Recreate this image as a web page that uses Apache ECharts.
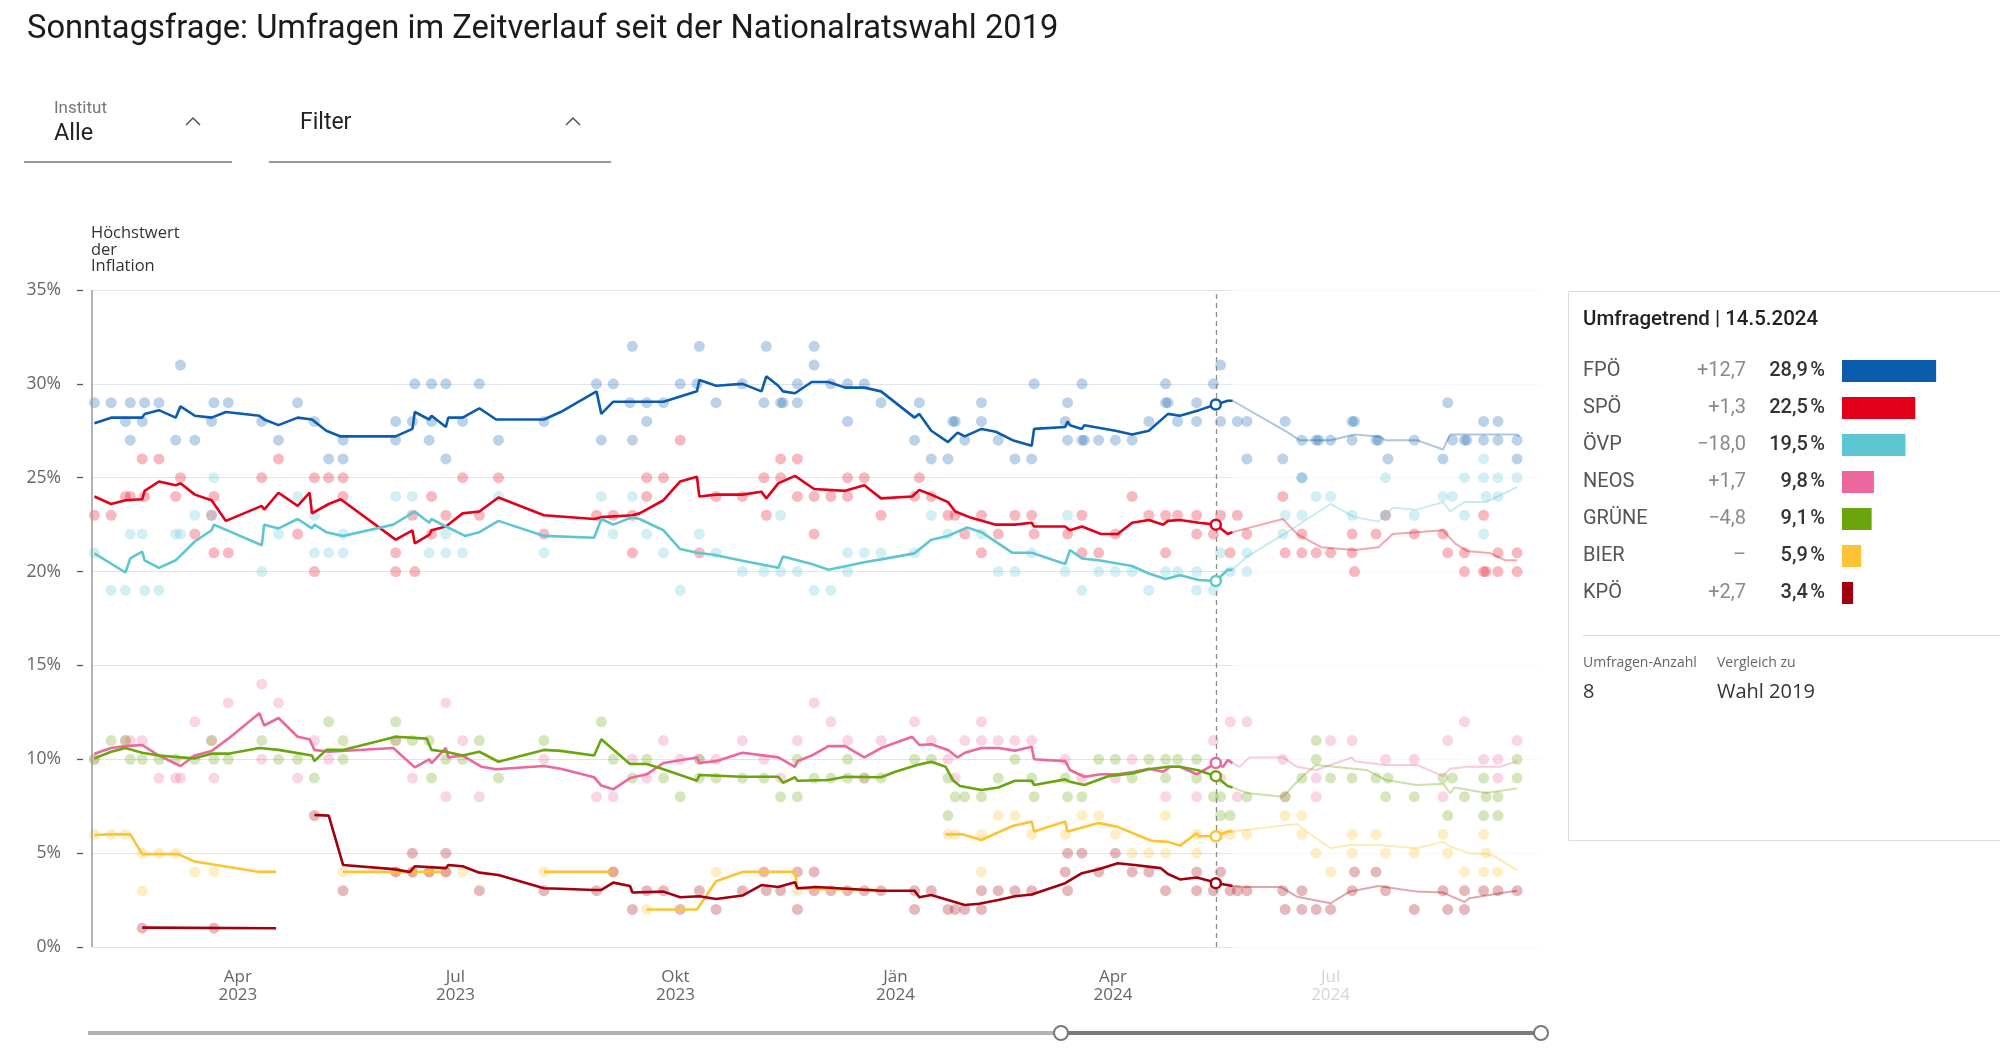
<!DOCTYPE html>
<html><head><meta charset="utf-8">
<script src="https://cdn.jsdelivr.net/npm/echarts@6/dist/echarts.min.js"></script>
<style>html,body{margin:0;padding:0;background:#fff}#c{width:2000px;height:1049px}</style>
</head><body><div id="c"></div>
<script>
const parties = ['FPÖ','SPÖ','ÖVP','NEOS','GRÜNE','BIER','KPÖ'];
const partyColors = ['#0b5cad','#e2001a','#5ec6d3','#ec679f','#6aa50d','#fdc332','#a3000f'];
const changeLabels = ['+12,7','+1,3','\u221218,0','+1,7','\u22124,8','\u2013','+2,7'];
const pollCount = '8';
const compareTo = 'Wahl 2019';
const trendDate = '2024-05-14';
const fadeFrom = '2024-05-21';
const inflationPeakDate = '2023-01-30';
const xMin = '2023-01-30', xMax = '2024-09-27';
const xTickDates = ['2023-04-01','2023-07-01','2023-10-01','2024-01-01','2024-04-01','2024-07-01'];
const xTickLabels = ['Apr\n2023','Jul\n2023','Okt\n2023','Jän\n2024','Apr\n2024','Jul\n2024'];

const fpoTrend = [['2023-01-31',27.9],['2023-02-07',28.2],['2023-02-14',28.2],['2023-02-20',28.2],['2023-02-21',28.4],['2023-02-27',28.6],['2023-03-06',28.2],['2023-03-08',28.8],['2023-03-14',28.3],['2023-03-21',28.2],['2023-03-27',28.5],['2023-04-10',28.3],['2023-04-12',28.1],['2023-04-18',27.8],['2023-04-26',28.2],['2023-05-02',28.1],['2023-05-08',27.5],['2023-05-14',27.2],['2023-06-06',27.2],['2023-06-13',27.6],['2023-06-14',28.5],['2023-06-20',28.1],['2023-06-21',28.3],['2023-06-27',27.7],['2023-06-28',28.2],['2023-07-04',28.2],['2023-07-11',28.7],['2023-07-18',28.1],['2023-08-07',28.1],['2023-08-14',28.5],['2023-08-29',29.6],['2023-08-31',28.4],['2023-09-05',29.05],['2023-09-26',29.05],['2023-10-10',29.6],['2023-10-11',30.2],['2023-10-18',29.9],['2023-10-29',30.0],['2023-11-06',29.6],['2023-11-08',30.4],['2023-11-13',29.9],['2023-11-15',29.6],['2023-11-20',29.5],['2023-11-27',30.1],['2023-12-04',30.1],['2023-12-11',29.8],['2023-12-19',29.8],['2023-12-26',29.6],['2024-01-09',28.2],['2024-01-11',28.4],['2024-01-16',27.5],['2024-01-23',26.9],['2024-01-27',27.4],['2024-01-30',27.2],['2024-02-06',27.6],['2024-02-12',27.45],['2024-02-19',27.0],['2024-02-27',26.7],['2024-02-28',27.6],['2024-03-12',27.7],['2024-03-13',28.0],['2024-03-14',27.8],['2024-03-19',27.6],['2024-03-20',27.8],['2024-04-02',27.5],['2024-04-09',27.3],['2024-04-16',27.5],['2024-04-24',28.4],['2024-04-29',28.3],['2024-05-07',28.6],['2024-05-14',28.9],['2024-05-19',29.1],['2024-05-21',29.1],['2024-06-12',27.5],['2024-06-18',27.0],['2024-07-01',27.0],['2024-07-11',27.3],['2024-07-21',27.2],['2024-07-24',27.0],['2024-08-06',27.0],['2024-08-17',26.5],['2024-08-20',27.3],['2024-09-17',27.3],['2024-09-18',27.2]];
const spoTrend = [['2023-01-31',24.0],['2023-02-07',23.6],['2023-02-13',23.8],['2023-02-20',23.85],['2023-02-21',24.3],['2023-02-27',24.8],['2023-03-06',24.6],['2023-03-08',24.7],['2023-03-14',24.1],['2023-03-21',23.8],['2023-03-27',22.7],['2023-04-11',23.5],['2023-04-12',23.3],['2023-04-18',24.2],['2023-04-26',23.5],['2023-05-01',24.2],['2023-05-02',23.1],['2023-05-09',23.6],['2023-05-14',23.85],['2023-06-06',21.7],['2023-06-13',22.2],['2023-06-14',21.5],['2023-06-20',21.95],['2023-06-21',22.2],['2023-06-27',22.4],['2023-07-04',23.1],['2023-07-11',23.2],['2023-07-19',23.95],['2023-08-07',23.0],['2023-08-28',22.8],['2023-08-31',22.9],['2023-09-13',23.0],['2023-09-16',23.1],['2023-09-26',23.8],['2023-10-03',24.8],['2023-10-10',25.05],['2023-10-11',24.0],['2023-10-18',24.1],['2023-10-29',24.1],['2023-11-06',24.25],['2023-11-08',23.9],['2023-11-13',24.7],['2023-11-20',25.1],['2023-11-28',24.4],['2023-12-11',24.3],['2023-12-19',24.6],['2023-12-26',23.9],['2024-01-08',24.0],['2024-01-11',24.35],['2024-01-16',24.1],['2024-01-23',23.7],['2024-01-26',23.2],['2024-02-01',22.9],['2024-02-12',22.5],['2024-02-20',22.5],['2024-02-27',22.6],['2024-02-28',22.4],['2024-03-12',22.4],['2024-03-14',22.2],['2024-03-19',22.4],['2024-03-27',22.0],['2024-04-03',22.0],['2024-04-09',22.6],['2024-04-16',22.75],['2024-04-22',22.5],['2024-04-24',22.7],['2024-04-29',22.75],['2024-05-07',22.6],['2024-05-14',22.5],['2024-05-19',22.0],['2024-05-21',22.1],['2024-06-11',22.8],['2024-06-17',22.0],['2024-06-27',21.3],['2024-07-11',21.15],['2024-07-21',21.3],['2024-07-27',22.0],['2024-08-17',22.2],['2024-08-22',21.5],['2024-08-27',21.1],['2024-09-06',20.97],['2024-09-12',20.6],['2024-09-17',20.6]];
const ovpTrend = [['2023-01-31',20.97],['2023-02-13',19.95],['2023-02-15',20.7],['2023-02-20',21.06],['2023-02-21',20.6],['2023-02-27',20.2],['2023-03-06',20.6],['2023-03-14',21.6],['2023-03-21',22.2],['2023-03-22',22.5],['2023-04-11',21.4],['2023-04-12',22.5],['2023-04-18',22.3],['2023-04-26',22.8],['2023-05-02',22.3],['2023-05-03',22.5],['2023-05-08',22.1],['2023-05-15',21.9],['2023-06-05',22.5],['2023-06-14',23.2],['2023-06-20',22.6],['2023-06-21',22.8],['2023-06-27',22.4],['2023-07-05',21.9],['2023-07-11',22.1],['2023-07-19',22.7],['2023-08-07',21.9],['2023-08-28',21.8],['2023-08-31',22.8],['2023-09-05',22.5],['2023-09-13',22.9],['2023-09-16',22.8],['2023-09-26',22.2],['2023-10-03',21.2],['2023-10-10',21.0],['2023-10-17',20.9],['2023-10-28',20.6],['2023-11-13',20.2],['2023-11-15',20.8],['2023-11-27',20.4],['2023-12-04',20.1],['2023-12-19',20.5],['2023-12-26',20.65],['2024-01-09',20.97],['2024-01-16',21.7],['2024-01-23',21.9],['2024-01-31',22.35],['2024-02-06',22.1],['2024-02-13',21.5],['2024-02-19',21.0],['2024-02-27',21.0],['2024-03-12',20.4],['2024-03-14',21.15],['2024-03-19',20.7],['2024-03-26',20.6],['2024-04-09',20.3],['2024-04-16',19.9],['2024-04-23',19.6],['2024-04-29',19.8],['2024-05-07',19.55],['2024-05-14',19.5],['2024-05-19',20.1],['2024-05-21',20.1],['2024-05-27',20.8],['2024-06-11',21.95],['2024-07-01',23.6],['2024-07-11',22.9],['2024-07-21',22.66],['2024-07-27',23.4],['2024-08-06',23.3],['2024-08-17',23.7],['2024-08-20',23.2],['2024-08-26',23.7],['2024-09-04',23.7],['2024-09-17',24.5]];
const neosTrend = [['2023-01-31',10.3],['2023-02-07',10.6],['2023-02-13',10.7],['2023-02-20',10.76],['2023-02-27',10.2],['2023-03-08',9.64],['2023-03-14',10.2],['2023-03-21',10.44],['2023-03-28',11.1],['2023-04-10',12.45],['2023-04-12',11.8],['2023-04-18',12.2],['2023-04-26',11.2],['2023-05-01',11.07],['2023-05-03',10.5],['2023-05-09',10.4],['2023-06-05',10.6],['2023-06-14',9.57],['2023-06-20',10.0],['2023-06-21',9.8],['2023-06-27',10.6],['2023-06-28',10.1],['2023-07-04',10.2],['2023-07-12',9.6],['2023-07-18',9.47],['2023-08-07',9.64],['2023-08-14',9.5],['2023-08-28',9.04],['2023-08-31',8.6],['2023-09-05',8.4],['2023-09-12',9.0],['2023-09-19',9.2],['2023-09-26',9.8],['2023-10-10',10.1],['2023-10-11',9.8],['2023-10-18',9.9],['2023-10-29',10.35],['2023-11-13',10.1],['2023-11-20',9.6],['2023-11-21',9.9],['2023-11-27',10.2],['2023-12-04',10.7],['2023-12-11',10.7],['2023-12-19',10.1],['2023-12-26',10.6],['2024-01-08',11.2],['2024-01-11',10.76],['2024-01-16',10.8],['2024-01-23',10.5],['2024-01-27',10.1],['2024-01-30',10.35],['2024-02-06',10.6],['2024-02-13',10.6],['2024-02-20',10.46],['2024-02-27',10.67],['2024-02-28',10.0],['2024-03-12',9.9],['2024-03-14',9.43],['2024-03-20',9.07],['2024-03-27',9.2],['2024-04-03',9.2],['2024-04-10',9.34],['2024-04-16',9.5],['2024-04-22',9.34],['2024-04-25',9.6],['2024-04-29',9.6],['2024-05-06',9.2],['2024-05-14',9.8],['2024-05-17',9.6],['2024-05-19',9.96],['2024-05-21',9.8],['2024-05-24',9.6],['2024-05-28',10.1],['2024-06-11',10.1],['2024-06-17',9.6],['2024-06-25',9.43],['2024-07-10',10.1],['2024-07-11',9.9],['2024-07-24',9.7],['2024-08-06',9.7],['2024-08-17',9.1],['2024-08-20',9.5],['2024-08-27',9.6],['2024-09-10',9.6],['2024-09-17',9.9]];
const grueneTrend = [['2023-01-31',10.05],['2023-02-07',10.4],['2023-02-13',10.6],['2023-02-20',10.35],['2023-02-27',10.2],['2023-03-08',10.1],['2023-03-14',10.05],['2023-03-21',10.3],['2023-03-28',10.3],['2023-04-10',10.6],['2023-04-18',10.5],['2023-05-02',10.2],['2023-05-03',9.9],['2023-05-08',10.5],['2023-05-15',10.5],['2023-06-06',11.2],['2023-06-19',11.1],['2023-06-21',10.5],['2023-06-27',10.4],['2023-07-04',10.2],['2023-07-11',10.4],['2023-07-19',9.87],['2023-08-07',10.5],['2023-08-14',10.45],['2023-08-28',10.2],['2023-08-31',11.07],['2023-09-12',9.75],['2023-09-19',9.75],['2023-09-26',9.47],['2023-10-10',8.86],['2023-10-11',9.16],['2023-10-29',9.07],['2023-11-13',9.07],['2023-11-15',8.75],['2023-11-20',9.04],['2023-11-21',8.86],['2023-12-04',8.9],['2023-12-11',9.07],['2023-12-26',9.04],['2024-01-01',9.34],['2024-01-10',9.7],['2024-01-16',9.87],['2024-01-22',9.6],['2024-01-25',8.9],['2024-01-28',8.58],['2024-02-06',8.36],['2024-02-13',8.5],['2024-02-20',8.86],['2024-02-27',8.86],['2024-02-28',8.63],['2024-03-12',8.93],['2024-03-14',8.8],['2024-03-20',8.63],['2024-03-30',9.1],['2024-04-09',9.25],['2024-04-16',9.47],['2024-04-24',9.6],['2024-04-29',9.6],['2024-05-07',9.4],['2024-05-14',9.1],['2024-05-19',8.58],['2024-05-21',8.5],['2024-05-27',8.2],['2024-06-11',8.0],['2024-06-19',9.07],['2024-06-25',9.7],['2024-07-16',9.43],['2024-07-24',8.9],['2024-08-06',8.63],['2024-08-17',8.7],['2024-08-20',8.2],['2024-08-22',8.5],['2024-09-04',8.2],['2024-09-17',8.45]];
const bierTrend = [['2023-01-31',5.97],['2023-02-07',6.0],['2023-02-15',6.0],['2023-02-20',4.95],['2023-03-07',4.95],['2023-03-14',4.55],['2023-04-10',4.0],['2023-04-17',4.0],['2023-05-01',null],['2023-05-15',4.0],['2023-06-25',4.0],['2023-07-15',null],['2023-08-07',4.0],['2023-09-04',4.0],['2023-09-10',null],['2023-09-19',2.0],['2023-10-10',2.0],['2023-10-18',3.5],['2023-10-29',4.0],['2023-11-20',4.0],['2023-11-21',3.1],['2023-12-26',3.04],['2024-01-10',null],['2024-01-22',6.0],['2024-01-29',6.0],['2024-02-06',5.7],['2024-02-19',6.45],['2024-02-27',6.68],['2024-02-28',6.15],['2024-03-12',6.68],['2024-03-13',6.15],['2024-03-26',6.6],['2024-04-03',6.4],['2024-04-17',5.66],['2024-04-24',5.6],['2024-04-29',5.4],['2024-05-06',6.06],['2024-05-07',5.9],['2024-05-14',5.9],['2024-05-19',6.15],['2024-05-21',6.15],['2024-06-13',6.5],['2024-06-17',6.55],['2024-06-23',5.97],['2024-07-01',5.26],['2024-07-09',5.43],['2024-07-21',5.43],['2024-08-06',5.26],['2024-08-17',5.6],['2024-08-20',5.34],['2024-08-28',5.0],['2024-09-04',4.97],['2024-09-08',4.8],['2024-09-17',4.1]];
const kpoTrend = [['2023-02-20',1.03],['2023-04-17',1.0],['2023-04-25',null],['2023-05-03',7.03],['2023-05-09',7.0],['2023-05-15',4.37],['2023-06-05',4.15],['2023-06-12',4.0],['2023-06-14',4.3],['2023-06-27',4.2],['2023-06-28',4.37],['2023-07-04',4.3],['2023-07-11',3.96],['2023-07-19',3.84],['2023-08-07',3.13],['2023-08-14',3.1],['2023-08-28',3.04],['2023-08-31',3.04],['2023-09-05',3.43],['2023-09-12',3.25],['2023-09-13',2.9],['2023-09-26',2.95],['2023-10-03',2.65],['2023-10-11',2.7],['2023-10-18',2.56],['2023-10-29',2.74],['2023-11-06',3.3],['2023-11-13',3.2],['2023-11-20',3.45],['2023-11-21',3.13],['2023-11-29',3.2],['2023-12-26',3.0],['2024-01-09',3.0],['2024-01-11',2.65],['2024-01-16',2.77],['2024-01-23',2.5],['2024-01-30',2.24],['2024-02-05',2.3],['2024-02-13',2.5],['2024-02-20',2.7],['2024-02-27',2.8],['2024-03-12',3.4],['2024-03-19',3.93],['2024-03-26',4.14],['2024-04-03',4.46],['2024-04-10',4.37],['2024-04-21',4.2],['2024-04-24',3.89],['2024-04-29',3.6],['2024-05-06',3.7],['2024-05-12',3.5],['2024-05-14',3.4],['2024-05-19',3.3],['2024-05-21',3.25],['2024-05-26',3.2],['2024-06-10',3.2],['2024-06-17',2.68],['2024-07-01',2.33],['2024-07-09',2.95],['2024-07-21',3.25],['2024-08-06',2.95],['2024-08-17',2.9],['2024-08-26',2.4],['2024-08-28',2.6],['2024-09-12',2.9],['2024-09-17',3.0]];

const fpoPolls = [['2023-01-31',29],['2023-02-07',29],['2023-02-13',28],['2023-02-15',29],['2023-02-15',27],['2023-02-20',28],['2023-02-21',29],['2023-02-27',29],['2023-03-06',27],['2023-03-08',31],['2023-03-14',27],['2023-03-21',28],['2023-03-22',29],['2023-03-28',29],['2023-04-11',28],['2023-04-18',27],['2023-04-26',29],['2023-05-03',28],['2023-05-09',26],['2023-05-15',27],['2023-05-15',26],['2023-06-06',28],['2023-06-06',27],['2023-06-13',28],['2023-06-14',30],['2023-06-20',27],['2023-06-21',30],['2023-06-21',28],['2023-06-27',26],['2023-06-27',30],['2023-07-04',28],['2023-07-11',30],['2023-07-19',27],['2023-08-07',28],['2023-08-29',30],['2023-08-31',27],['2023-09-05',30],['2023-09-12',29],['2023-09-13',32],['2023-09-13',27],['2023-09-19',29],['2023-09-19',28],['2023-09-26',29],['2023-10-03',30],['2023-10-10',30],['2023-10-11',32],['2023-10-18',29],['2023-10-29',30],['2023-11-07',29],['2023-11-08',32],['2023-11-14',29],['2023-11-15',29],['2023-11-21',30],['2023-11-21',29],['2023-11-28',32],['2023-11-28',31],['2023-12-05',30],['2023-12-12',30],['2023-12-12',28],['2023-12-19',30],['2023-12-26',29],['2024-01-09',27],['2024-01-11',29],['2024-01-16',26],['2024-01-23',26],['2024-01-25',28],['2024-01-26',28],['2024-01-30',27],['2024-02-06',29],['2024-02-06',28],['2024-02-13',27],['2024-02-20',26],['2024-02-27',26],['2024-02-28',30],['2024-03-12',28],['2024-03-13',29],['2024-03-13',27],['2024-03-19',27],['2024-03-20',27],['2024-03-19',30],['2024-03-26',27],['2024-04-02',27],['2024-04-09',27],['2024-04-16',28],['2024-04-23',30],['2024-04-23',29],['2024-04-24',29],['2024-04-28',28],['2024-05-06',29],['2024-05-06',28],['2024-05-13',30],['2024-05-16',31],['2024-05-16',28],['2024-05-23',28],['2024-05-27',28],['2024-05-27',26],['2024-06-11',26],['2024-06-12',28],['2024-06-19',27],['2024-06-19',25],['2024-06-25',27],['2024-06-26',27],['2024-07-01',27],['2024-07-10',28],['2024-07-11',28],['2024-07-10',27],['2024-07-20',27],['2024-07-21',27],['2024-07-25',26],['2024-08-05',27],['2024-08-17',26],['2024-08-19',29],['2024-08-21',27],['2024-08-26',27],['2024-08-27',27],['2024-09-03',28],['2024-09-03',27],['2024-09-09',28],['2024-09-09',27],['2024-09-17',27],['2024-09-17',26]];
const spoPolls = [['2023-01-31',23],['2023-02-07',23],['2023-02-13',24],['2023-02-15',24],['2023-02-20',26],['2023-02-21',24],['2023-02-27',26],['2023-03-06',24],['2023-03-08',25],['2023-03-14',22],['2023-03-21',23],['2023-03-22',24],['2023-03-22',21],['2023-03-28',21],['2023-04-11',25],['2023-04-18',26],['2023-04-26',22],['2023-05-03',25],['2023-05-03',20],['2023-05-09',25],['2023-05-15',25],['2023-05-15',24],['2023-06-06',21],['2023-06-06',20],['2023-06-13',23],['2023-06-14',20],['2023-06-21',24],['2023-06-21',22],['2023-06-27',23],['2023-07-04',25],['2023-07-11',23],['2023-07-19',25],['2023-08-07',22],['2023-08-29',23],['2023-09-05',23],['2023-09-13',23],['2023-09-13',21],['2023-09-19',25],['2023-09-19',24],['2023-09-26',25],['2023-10-03',27],['2023-10-11',21],['2023-10-18',24],['2023-10-29',24],['2023-11-07',25],['2023-11-08',23],['2023-11-14',26],['2023-11-14',25],['2023-11-21',26],['2023-11-21',24],['2023-11-28',24],['2023-11-28',22],['2023-12-05',24],['2023-12-12',25],['2023-12-12',24],['2023-12-19',25],['2023-12-26',23],['2024-01-09',24],['2024-01-11',25],['2024-01-16',24],['2024-01-23',23],['2024-01-26',23],['2024-01-30',22],['2024-02-06',23],['2024-02-06',21],['2024-02-13',22],['2024-02-20',23],['2024-02-27',23],['2024-02-28',22],['2024-03-13',22],['2024-03-19',23],['2024-03-19',21],['2024-03-26',21],['2024-04-02',22],['2024-04-09',24],['2024-04-16',23],['2024-04-23',23],['2024-04-23',21],['2024-04-28',23],['2024-05-06',22],['2024-05-06',23],['2024-05-13',22],['2024-05-16',23],['2024-05-20',21],['2024-05-23',23],['2024-05-27',22],['2024-06-11',24],['2024-06-12',21],['2024-06-19',22],['2024-06-19',21],['2024-06-25',21],['2024-07-01',21],['2024-07-10',21],['2024-07-10',22],['2024-07-11',20],['2024-07-20',22],['2024-07-24',23],['2024-08-05',22],['2024-08-17',22],['2024-08-19',21],['2024-08-26',21],['2024-08-26',20],['2024-09-03',23],['2024-09-03',20],['2024-09-04',20],['2024-09-09',21],['2024-09-09',20],['2024-09-17',20],['2024-09-17',21]];
const ovpPolls = [['2023-01-31',21],['2023-02-07',19],['2023-02-13',19],['2023-02-15',22],['2023-02-20',22],['2023-02-21',19],['2023-02-27',19],['2023-03-06',22],['2023-03-08',22],['2023-03-14',23],['2023-03-21',23],['2023-03-22',25],['2023-04-11',20],['2023-04-18',22],['2023-04-26',24],['2023-05-03',21],['2023-05-03',23],['2023-05-09',21],['2023-05-15',22],['2023-05-15',21],['2023-06-06',24],['2023-06-13',24],['2023-06-20',21],['2023-06-27',22],['2023-06-27',21],['2023-07-04',21],['2023-07-19',24],['2023-08-07',21],['2023-08-31',24],['2023-09-05',22],['2023-09-13',24],['2023-09-19',22],['2023-09-26',21],['2023-10-03',19],['2023-10-11',22],['2023-10-18',21],['2023-10-29',20],['2023-11-07',20],['2023-11-14',23],['2023-11-14',20],['2023-11-21',20],['2023-11-28',19],['2023-12-05',19],['2023-12-12',21],['2023-12-12',20],['2023-12-19',21],['2023-12-26',21],['2024-01-09',21],['2024-01-16',23],['2024-01-23',22],['2024-02-06',22],['2024-02-13',20],['2024-02-20',20],['2024-02-27',21],['2024-03-12',20],['2024-03-13',23],['2024-03-19',19],['2024-03-26',20],['2024-04-02',20],['2024-04-09',20],['2024-04-16',19],['2024-04-23',20],['2024-04-28',20],['2024-05-06',19],['2024-05-06',20],['2024-05-13',19],['2024-05-16',21],['2024-05-20',20],['2024-05-27',21],['2024-05-27',20],['2024-06-11',22],['2024-06-12',23],['2024-06-19',25],['2024-06-19',23],['2024-06-25',24],['2024-07-01',24],['2024-07-10',23],['2024-07-24',25],['2024-07-24',23],['2024-08-05',23],['2024-08-17',24],['2024-08-21',24],['2024-08-26',25],['2024-08-26',23],['2024-09-03',26],['2024-09-03',25],['2024-09-04',24],['2024-09-03',22],['2024-09-09',25],['2024-09-09',24],['2024-09-17',25]];
const neosPolls = [['2023-01-31',10],['2023-02-13',11],['2023-02-15',11],['2023-02-20',11],['2023-02-27',9],['2023-03-06',9],['2023-03-08',9],['2023-03-14',12],['2023-03-21',11],['2023-03-22',9],['2023-03-28',13],['2023-04-11',14],['2023-04-11',10],['2023-04-18',13],['2023-04-26',9],['2023-05-03',11],['2023-05-09',10],['2023-06-06',11],['2023-06-13',9],['2023-06-27',13],['2023-06-27',8],['2023-07-04',11],['2023-07-11',8],['2023-08-07',10],['2023-08-29',8],['2023-09-05',8],['2023-09-13',10],['2023-09-19',9],['2023-09-26',11],['2023-10-03',10],['2023-10-11',10],['2023-10-18',10],['2023-10-29',11],['2023-11-07',10],['2023-11-14',9],['2023-11-21',11],['2023-11-28',13],['2023-12-05',12],['2023-12-12',11],['2023-12-19',9],['2023-12-26',11],['2024-01-09',12],['2024-01-16',11],['2024-01-23',10],['2024-01-26',9],['2024-01-30',11],['2024-02-06',12],['2024-02-06',11],['2024-02-13',11],['2024-02-20',11],['2024-02-27',11],['2024-03-12',10],['2024-03-19',9],['2024-04-02',9],['2024-04-09',10],['2024-04-23',8],['2024-05-06',8],['2024-05-13',11],['2024-05-16',9],['2024-05-20',12],['2024-05-23',8],['2024-05-27',12],['2024-06-11',10],['2024-06-12',8],['2024-06-25',9],['2024-06-25',8],['2024-07-01',11],['2024-07-10',11],['2024-07-24',10],['2024-08-05',10],['2024-08-17',8],['2024-08-19',11],['2024-08-26',12],['2024-09-03',10],['2024-09-09',10],['2024-09-09',9],['2024-09-17',11]];
const gruenePolls = [['2023-01-31',10],['2023-02-07',11],['2023-02-13',11],['2023-02-15',10],['2023-02-20',10],['2023-02-27',10],['2023-03-06',10],['2023-03-14',10],['2023-03-21',11],['2023-03-22',10],['2023-03-28',10],['2023-04-11',11],['2023-04-18',10],['2023-04-26',10],['2023-05-03',9],['2023-05-09',12],['2023-05-15',11],['2023-05-15',10],['2023-06-06',12],['2023-06-06',11],['2023-06-13',11],['2023-06-20',11],['2023-06-21',9],['2023-06-27',10],['2023-07-04',10],['2023-07-11',11],['2023-07-19',9],['2023-08-07',11],['2023-08-31',12],['2023-09-05',10],['2023-09-13',9],['2023-09-19',10],['2023-09-26',9],['2023-10-03',8],['2023-10-11',10],['2023-10-11',9],['2023-10-18',9],['2023-10-29',9],['2023-11-07',9],['2023-11-14',8],['2023-11-21',10],['2023-11-21',8],['2023-11-28',9],['2023-12-05',9],['2023-12-12',10],['2023-12-12',9],['2023-12-19',9],['2023-12-26',9],['2024-01-09',10],['2024-01-16',10],['2024-01-23',9],['2024-01-23',7],['2024-01-26',8],['2024-01-30',8],['2024-02-06',8],['2024-02-13',9],['2024-02-20',10],['2024-02-27',9],['2024-02-28',8],['2024-03-12',9],['2024-03-13',8],['2024-03-19',8],['2024-03-26',10],['2024-04-02',10],['2024-04-09',9],['2024-04-16',10],['2024-04-23',10],['2024-04-23',9],['2024-04-28',10],['2024-05-06',10],['2024-05-06',9],['2024-05-13',8],['2024-05-16',8],['2024-05-16',7],['2024-05-20',7],['2024-05-27',8],['2024-06-12',8],['2024-06-19',9],['2024-06-25',11],['2024-06-25',10],['2024-07-01',9],['2024-07-10',9],['2024-07-20',9],['2024-07-24',8],['2024-07-25',9],['2024-08-05',8],['2024-08-17',9],['2024-08-19',7],['2024-08-21',9],['2024-08-26',8],['2024-09-03',9],['2024-09-03',7],['2024-09-04',8],['2024-09-09',7],['2024-09-09',8],['2024-09-17',10],['2024-09-17',9]];
const bierPolls = [['2023-01-31',6],['2023-02-07',6],['2023-02-13',6],['2023-02-20',5],['2023-02-20',3],['2023-02-27',5],['2023-03-06',5],['2023-03-14',4],['2023-03-22',4],['2023-05-15',4],['2023-06-06',4],['2023-06-13',4],['2023-06-20',4],['2023-06-27',4],['2023-07-04',4],['2023-08-07',4],['2023-09-05',4],['2023-09-19',2],['2023-10-18',4],['2023-11-21',3],['2024-01-23',6],['2024-01-26',6],['2024-02-06',6],['2024-02-06',4],['2024-02-13',7],['2024-02-20',7],['2024-02-27',6],['2024-03-12',6],['2024-03-19',7],['2024-03-26',7],['2024-04-02',6],['2024-04-09',5],['2024-04-16',5],['2024-04-23',7],['2024-04-23',5],['2024-05-06',5],['2024-05-06',6],['2024-05-16',6],['2024-05-20',6],['2024-05-27',6],['2024-06-12',7],['2024-06-19',7],['2024-06-19',6],['2024-06-25',5],['2024-07-01',4],['2024-07-10',6],['2024-07-10',5],['2024-07-20',6],['2024-07-24',5],['2024-08-05',5],['2024-08-17',6],['2024-08-19',5],['2024-08-26',4],['2024-09-03',6],['2024-09-03',4],['2024-09-04',5],['2024-09-09',4]];
const kpoPolls = [['2023-02-20',1],['2023-03-22',1],['2023-05-03',7],['2023-05-15',3],['2023-06-06',4],['2023-06-13',5],['2023-06-13',4],['2023-06-20',4],['2023-06-27',5],['2023-06-27',4],['2023-07-11',3],['2023-08-07',3],['2023-08-29',3],['2023-09-05',4],['2023-09-13',2],['2023-09-19',3],['2023-09-26',3],['2023-10-03',2],['2023-10-11',3],['2023-10-18',2],['2023-10-29',3],['2023-11-07',4],['2023-11-08',3],['2023-11-14',3],['2023-11-21',4],['2023-11-21',2],['2023-11-28',4],['2023-11-28',3],['2023-12-05',3],['2023-12-12',3],['2023-12-19',3],['2023-12-26',3],['2024-01-09',3],['2024-01-09',2],['2024-01-16',3],['2024-01-23',2],['2024-01-26',2],['2024-01-30',2],['2024-02-06',3],['2024-02-06',2],['2024-02-13',3],['2024-02-20',3],['2024-02-27',3],['2024-03-12',4],['2024-03-13',5],['2024-03-13',3],['2024-03-19',5],['2024-03-26',4],['2024-04-02',5],['2024-04-09',4],['2024-04-16',4],['2024-04-23',3],['2024-05-06',4],['2024-05-06',3],['2024-05-13',3],['2024-05-16',4],['2024-05-20',3],['2024-05-23',3],['2024-05-27',3],['2024-06-11',3],['2024-06-12',2],['2024-06-19',3],['2024-06-19',2],['2024-06-25',2],['2024-07-01',2],['2024-07-10',3],['2024-07-11',4],['2024-07-20',4],['2024-07-24',3],['2024-08-05',2],['2024-08-17',3],['2024-08-19',2],['2024-08-26',2],['2024-08-26',3],['2024-09-03',3],['2024-09-09',3],['2024-09-17',3]];

const trends = [fpoTrend, spoTrend, ovpTrend, neosTrend, grueneTrend, bierTrend, kpoTrend];
const polls = [fpoPolls, spoPolls, ovpPolls, neosPolls, gruenePolls, bierPolls, kpoPolls];

function toTs(s){const p=s.split('-').map(Number);return new Date(p[0],p[1]-1,p[2]).getTime();}
function pts(arr){return arr.map(d=>[toTs(d[0]), d[1]]);}
const tickTs = xTickDates.map(toTs);
const trendValues = trends.map(t => t.find(d => d[0] === trendDate)[1]);

const series = [];
polls.forEach((p,i)=>{
  series.push({type:'scatter', data:pts(p), symbolSize:11, silent:true, z:2,
    itemStyle:{color:partyColors[i], opacity:0.28}});
});
trends.forEach((t,i)=>{
  series.push({type:'line', data:pts(t.filter(d=>d[0]>=fadeFrom)), showSymbol:false, silent:true, z:3,
    lineStyle:{color:partyColors[i], width:2, opacity:0.35}});
  series.push({type:'line', data:pts(t.filter(d=>d[0]<=fadeFrom)), showSymbol:false, silent:true, z:4,
    lineStyle:{color:partyColors[i], width:2.6}});
});
series[0].markLine = {silent:true, symbol:['none','none'], animation:false, label:{show:false},
  data:[
    {xAxis: toTs(inflationPeakDate), lineStyle:{color:'#9a9a9a', type:'solid', width:1.5}},
    {xAxis: toTs(trendDate), lineStyle:{color:'#8c8c8c', type:[5,4], width:1.3}}
  ]};
series.push({type:'scatter', z:6, silent:true, symbol:'circle', symbolSize:10,
  data: trendValues.map((v,i)=>({value:[toTs(trendDate), v], itemStyle:{color:'#fff', borderColor:partyColors[i], borderWidth:2.5, opacity:1}}))});
series.push({type:'bar', xAxisIndex:1, yAxisIndex:1, barWidth:22, silent:true, z:3,
  data: trendValues.map((v,i)=>({value:v, itemStyle:{color:partyColors[i]}}))});

const axisFont = '"Open Sans", "Noto Sans", sans-serif';
function labelFor(v){let best=-1,bd=Infinity;tickTs.forEach((t,i)=>{const d=Math.abs(t-v);if(d<bd){bd=d;best=i;}});return bd<3*86400000?xTickLabels[best]:'';}
const xLabelStyle = {margin:21, fontFamily:axisFont, fontSize:17, lineHeight:18, color:'#666'};
function buildOption(useCustom){
  return {
  animation:false,
  backgroundColor:'#fff',
  title:{text:'Sonntagsfrage: Umfragen im Zeitverlauf seit der Nationalratswahl 2019', left:22, top:8,
    textStyle:{fontFamily:'Roboto', fontSize:32.7, fontWeight:'normal', color:'#1b1b1b'}},
  grid:[{left:92, right:459, top:290, bottom:102},
        {left:1842, top:352.5, width:114, height:259}],
  xAxis:[{type:'value', gridIndex:0, min:toTs(xMin), max:toTs(xMax),
      axisLine:{show:true, lineStyle:{color:'#dfe4ee', width:1}},
      axisTick:{show:false}, splitLine:{show:false},
      axisLabel: useCustom ? Object.assign({customValues:tickTs, formatter:labelFor}, xLabelStyle) : {show:false}},
    {type:'value', gridIndex:1, min:0, max:35, show:false}],
  yAxis:[{type:'value', gridIndex:0, min:0, max:35, interval:5, offset:9,
      axisLine:{show:false}, axisTick:{show:true, length:6, lineStyle:{color:'#555', width:1.3}},
      splitLine:{show:true, lineStyle:{color:'#dfe4ee', width:1}},
      axisLabel:{margin:22, formatter:'{value}%', fontFamily:axisFont, fontSize:17.5, color:'#666'}},
    {type:'category', gridIndex:1, data:parties, inverse:true, show:false}],
  series: series
  };
}
let chart = echarts.init(document.getElementById('c'), null, {renderer:'canvas'});
let customOk = true;
try { chart.setOption(buildOption(true)); }
catch(e){ customOk = false; chart.dispose(); chart = echarts.init(document.getElementById('c')); chart.setOption(buildOption(false)); }

// ---- decorations (layout only) ----
const fx = chart.convertToPixel({xAxisIndex:0}, toTs(fadeFrom));
const g = [];
function txt(x,y,text,size,color,opt){opt=opt||{};return {type:'text', z:10, silent:true, x:x, y:y,
  style:{text:text, fontSize:size, fill:color, fontFamily:opt.family||'Roboto', fontWeight:opt.weight||'normal',
    align:opt.align||'left', textAlign:opt.align||'left', verticalAlign:'middle', textVerticalAlign:'middle'}};}
if(!customOk){
  tickTs.forEach((t,i)=>{const x=chart.convertToPixel({xAxisIndex:0}, t);
    g.push({type:'text', z:0, silent:true, x:x, y:968, style:{text:xTickLabels[i], fontSize:17, lineHeight:18, fill:'#666', fontFamily:axisFont, align:'center', textAlign:'center', verticalAlign:'top', textVerticalAlign:'top'}});});
}
g.push({type:'rect', z:1, silent:true, shape:{x:fx, y:282, width:1562-fx, height:732}, style:{fill:'rgba(255,255,255,0.72)'}});
// dropdowns
g.push(txt(54,109,'Institut',17,'#777'));
g.push(txt(54,134,'Alle',23.5,'#222'));
g.push(txt(300,123,'Filter',23,'#222'));
[[193,121],[573,121]].forEach(c=>g.push({type:'polyline', z:10, silent:true, shape:{points:[[c[0]-7,c[1]+4],[c[0],c[1]-3],[c[0]+7,c[1]+4]]}, style:{stroke:'#555', lineWidth:1.5, fill:null}}));
[[24,232],[269,611]].forEach(s=>g.push({type:'line', z:10, silent:true, shape:{x1:s[0],y1:162,x2:s[1],y2:162}, style:{stroke:'#9a9a9a', lineWidth:2}}));
// inflation note
g.push({type:'text', z:10, silent:true, x:91, y:225, style:{text:'Höchstwert\nder\nInflation', fontSize:16.5, lineHeight:16.6, fill:'#333', fontFamily:axisFont, align:'left', verticalAlign:'top', textAlign:'left', textVerticalAlign:'top'}});
// panel
g.push({type:'rect', z:0, silent:true, shape:{x:1568.5, y:291.5, width:480, height:549}, style:{fill:'#fff', stroke:'#dcdcdc', lineWidth:1}});
const dp = trendDate.split('-').map(Number);
g.push(txt(1583,320,'Umfragetrend | '+dp[2]+'.'+dp[1]+'.'+dp[0],20.5,'#222',{weight:500}));
parties.forEach((p,i)=>{
  const y = chart.convertToPixel({yAxisIndex:1}, p);
  g.push(txt(1583,y,p,20,'#555'));
  g.push(txt(1746,y,changeLabels[i],20,'#8a8a8a',{align:'right'}));
  g.push(txt(1825,y,trendValues[i].toFixed(1).replace('.',',')+'\u202f%',20,'#333',{align:'right', weight:500}));
});
g.push({type:'line', z:10, silent:true, shape:{x1:1583,y1:635.5,x2:2000,y2:635.5}, style:{stroke:'#dcdcdc', lineWidth:1}});
g.push(txt(1583,663,'Umfragen-Anzahl',14,'#666',{family:axisFont}));
g.push(txt(1717,663,'Vergleich zu',14,'#666',{family:axisFont}));
g.push(txt(1583,692,pollCount,20,'#333',{family:axisFont}));
g.push(txt(1717,692,compareTo,20,'#333',{family:axisFont}));
// range slider
g.push({type:'line', z:10, silent:true, shape:{x1:88,y1:1033,x2:1061,y2:1033}, style:{stroke:'#b3b3b3', lineWidth:4}});
g.push({type:'line', z:10, silent:true, shape:{x1:1061,y1:1033,x2:1541,y2:1033}, style:{stroke:'#7a7a7a', lineWidth:4}});
[1061,1541].forEach(x=>g.push({type:'circle', z:11, silent:true, shape:{cx:x, cy:1033, r:7}, style:{fill:'#fff', stroke:'#7a7a7a', lineWidth:2}}));
chart.setOption({graphic:{elements:g}});
</script></body></html>
